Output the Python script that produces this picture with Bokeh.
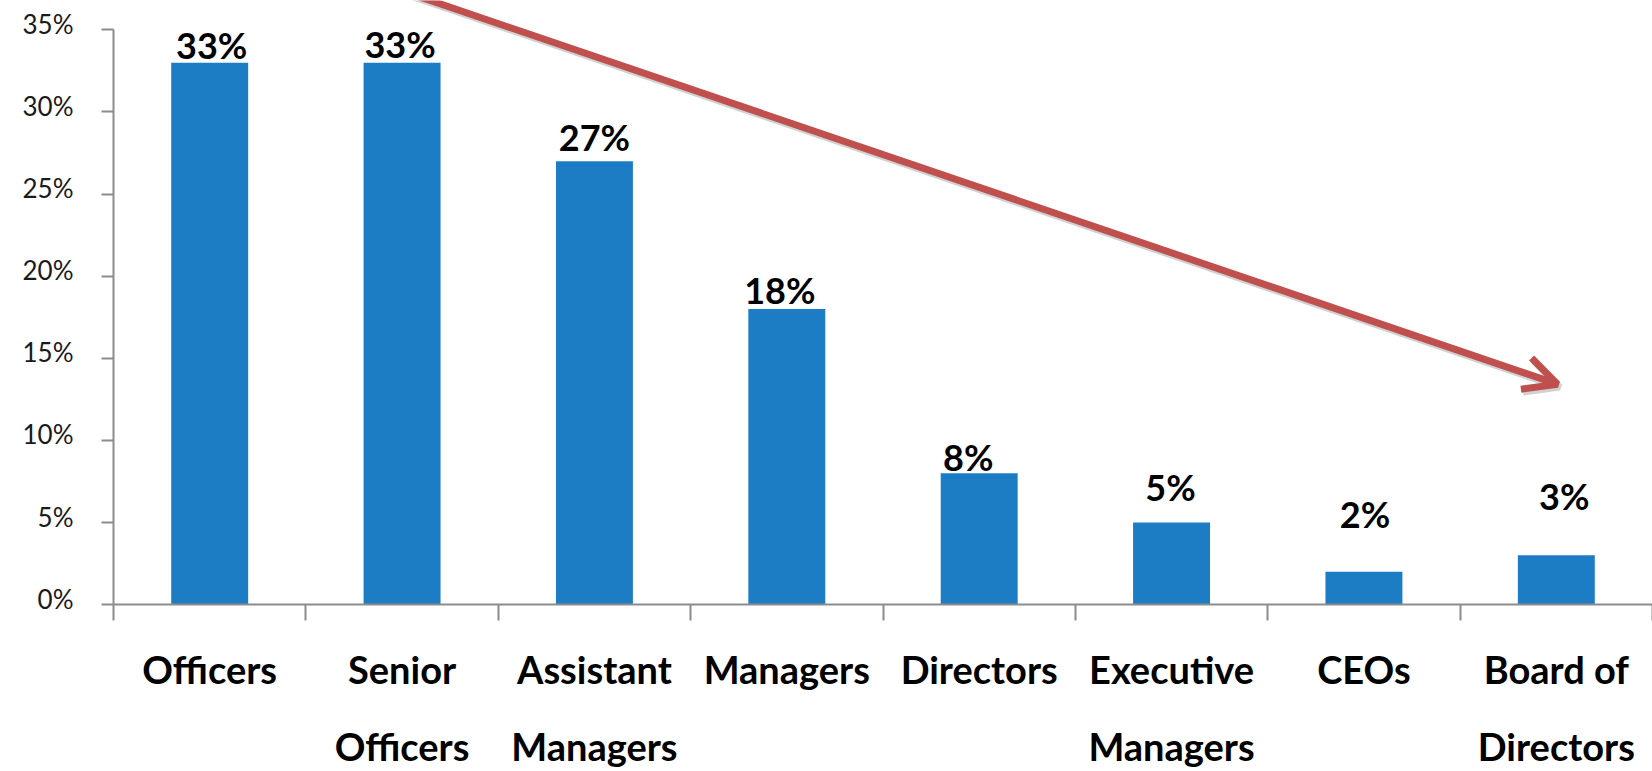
from bokeh.plotting import figure
from bokeh.models import (Range1d, FixedTicker, LinearAxis,
                          Arrow, OpenHead, ColumnDataSource)
from bokeh.core.properties import value
from bokeh.embed import file_html
from bokeh.resources import INLINE

# ---------------- data ----------------
categories = ["Officers", "Senior Officers", "Assistant Managers", "Managers",
              "Directors", "Executive Managers", "CEOs", "Board of Directors"]
label_line1 = ["Officers", "Senior", "Assistant", "Managers",
               "Directors", "Executive", "CEOs", "Board of"]
label_line2 = ["", "Officers", "Managers", "", "", "Managers", "", "Directors"]
values = [33, 33, 27, 18, 8, 5, 2, 3]
value_labels = ["33%", "33%", "27%", "18%", "8%", "5%", "2%", "3%"]
y_ticks = [0, 5, 10, 15, 20, 25, 30, 35]
y_tick_labels = ["0%", "5%", "10%", "15%", "20%", "25%", "30%", "35%"]

# label placement tweaks (pixels), as in the original chart
label_dx = [2, -2, 0, -7, -11, -1, 1, 8]
label_dy = [4, 5, 10, 5, 2, 21, 44, 45]
BASELINE_FIX = 14
Y_LABEL_LIFT = 0.36   # tick labels sit slightly above their ticks (data units)

BAR = "#1C7CC4"
RED = "#C0504D"
AXIS = "#8C8C8C"
FONT = "Lato"

n = len(categories)
xs = [i + 0.5 for i in range(n)]

src = ColumnDataSource(dict(x=xs, top=values, lab=value_labels,
                            dx=label_dx, dy=[-(d + BASELINE_FIX) for d in label_dy]))

Y_TOP = 36.79  # headroom above the 35% axis end, so the arrow can run to the top edge

p = figure(width=1652, height=771, output_backend="svg", toolbar_location=None,
           x_range=Range1d(0, n), y_range=Range1d(0, Y_TOP),
           min_border_left=113, min_border_right=0, min_border_top=0,
           min_border_bottom=165, outline_line_color=None,
           background_fill_color="white", border_fill_color="white")

p.xgrid.visible = False
p.ygrid.visible = False

p.vbar(x="x", top="top", width=0.4, bottom=0, source=src,
       fill_color=BAR, line_color=None)

p.text(x="x", y="top", text="lab", source=src, x_offset="dx", y_offset="dy",
       text_align="center", text_baseline="alphabetic",
       text_font=value(FONT), text_font_style="bold",
       text_font_size="36px", text_color="#000000")

# y axis: line + ticks
ya = p.yaxis[0]
ya.bounds = (0, 35)
ya.ticker = FixedTicker(ticks=y_ticks)
ya.axis_line_color = AXIS
ya.axis_line_width = 2
ya.major_tick_line_color = AXIS
ya.major_tick_line_width = 2
ya.major_tick_out = 12
ya.major_tick_in = 0
ya.minor_tick_line_color = None
ya.major_label_standoff = 0
ya.major_label_text_font_size = "1px"
ya.major_label_text_alpha = 0

# y axis: labels (slightly lifted)
lab_pos = [t + Y_LABEL_LIFT for t in y_ticks]
yl = LinearAxis(ticker=FixedTicker(ticks=lab_pos),
                major_label_overrides={v: s for v, s in zip(lab_pos, y_tick_labels)})
yl.axis_line_color = None
yl.major_tick_line_color = None
yl.minor_tick_line_color = None
yl.major_tick_out = 0
yl.major_tick_in = 0
yl.major_label_standoff = 28
yl.major_label_text_font = FONT
yl.major_label_text_font_size = "26px"
yl.major_label_text_color = "#1a1a1a"
p.add_layout(yl, "left")

# x axis: boundary ticks only
xa = p.xaxis[0]
xa.ticker = FixedTicker(ticks=list(range(n + 1)))
xa.axis_line_color = AXIS
xa.axis_line_width = 2
xa.major_tick_line_color = AXIS
xa.major_tick_line_width = 2
xa.major_tick_out = 16
xa.major_tick_in = 0
xa.minor_tick_line_color = None
xa.major_label_standoff = 0
xa.major_label_text_font_size = "1px"
xa.major_label_text_alpha = 0


def label_axis(lines, standoff):
    ax = LinearAxis(ticker=FixedTicker(ticks=xs),
                    major_label_overrides={x: t for x, t in zip(xs, lines)})
    ax.axis_line_color = None
    ax.major_tick_line_color = None
    ax.minor_tick_line_color = None
    ax.major_tick_out = 0
    ax.major_tick_in = 0
    ax.major_label_standoff = standoff
    ax.major_label_text_font = FONT
    ax.major_label_text_font_style = "bold"
    ax.major_label_text_font_size = "38px"
    ax.major_label_text_color = "#000000"
    p.add_layout(ax, "below")
    return ax


label_axis(label_line1, 25)
label_axis(label_line2, 28)

# decorative trend arrow (data coordinates)
xs0, ys0, xe, ye = 1.344, 38.0, 7.506, 13.42
dxs, dys = 0.011, -0.18
shadow = Arrow(x_start=xs0 + dxs, y_start=ys0 + dys, x_end=xe + dxs, y_end=ye + dys,
               line_color="#000000", line_alpha=0.18, line_width=7,
               end=OpenHead(size=33, line_color="#000000", line_alpha=0.18, line_width=7))
p.add_layout(shadow)
arrow = Arrow(x_start=xs0, y_start=ys0, x_end=xe, y_end=ye,
              line_color=RED, line_width=7,
              end=OpenHead(size=33, line_color=RED, line_width=7))
p.add_layout(arrow)

open("out.html", "w").write(file_html(p, INLINE))
